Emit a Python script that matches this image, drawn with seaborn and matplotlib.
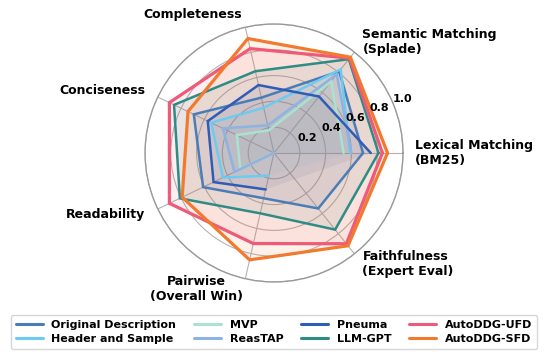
import numpy as np
import matplotlib
matplotlib.use("Agg")
import matplotlib.pyplot as plt
import seaborn as sns

sns.set_style("white")
plt.rcParams['font.family'] = ['DejaVu Sans']
plt.rcParams['text.color'] = 'black'
plt.rcParams['xtick.color'] = 'black'
plt.rcParams['ytick.color'] = 'black'
plt.rcParams['axes.labelcolor'] = 'black'

axis_labels = ["Lexical Matching\n(BM25)", "Semantic Matching\n(Splade)", "Completeness",
               "Conciseness", "Readability", "Pairwise\n(Overall Win)",
               "Faithfulness\n(Expert Eval)"]

methods = ["Original Description", "Header and Sample", "MVP", "ReasTAP",
           "Pneuma", "LLM-GPT", "AutoDDG-UFD", "AutoDDG-SFD"]

nan = np.nan
original_description = [0.69, 0.81, 0.44, 0.69, 0.61, 0.36, 0.55]
header_and_sample = [0.59, 0.83, 0.36, 0.54, 0.44, 0.18, nan]
mvp = [0.54, 0.71, 0.18, 0.32, 0.29, 0.0, nan]
reastap = [0.60, 0.78, 0.22, 0.44, 0.34, 0.0, nan]
pneuma = [0.75, 0.56, 0.54, 0.57, 0.52, 0.29, nan]
llm_gpt = [0.81, 0.93, 0.65, 0.86, 0.81, 0.48, 0.76]
autoddg_ufd = [0.84, 0.94, 0.83, 0.90, 0.90, 0.72, 0.90]
autoddg_sfd = [0.88, 0.95, 0.91, 0.74, 0.79, 0.85, 0.92]

series = [original_description, header_and_sample, mvp, reastap, pneuma,
          llm_gpt, autoddg_ufd, autoddg_sfd]

radial_ticks = [0.2, 0.4, 0.6, 0.8, 1.0]
radial_tick_labels = ["0.2", "0.4", "0.6", "0.8", "1.0"]

colors = ["#4a7db8", "#6ccbf0", "#a9e2cf", "#8db3e2", "#2f5db5",
          "#2e8c85", "#ee5a78", "#f27a2e"]
widths = [1.8, 1.8, 1.8, 1.8, 1.8, 1.8, 2.3, 2.3]

n = len(axis_labels)
angles = np.linspace(0, 2 * np.pi, n, endpoint=False)

fig = plt.figure(figsize=(5.48, 3.6), dpi=100)
ax = fig.add_axes([0.2646, 0.2167, 0.4708, 0.7167], projection='polar')

handles = []
for name, vals, c, lw in zip(methods, series, colors, widths):
    v = np.array(vals, dtype=float)
    a_closed = np.concatenate([angles, angles[:1]])
    v_closed = np.concatenate([v, v[:1]])
    line, = ax.plot(a_closed, v_closed, color=c, lw=lw, label=name,
                    solid_joinstyle='miter')
    mask = ~np.isnan(v)
    ax.fill(angles[mask], v[mask], color=c, alpha=0.1, lw=0)
    handles.append(line)

ax.set_ylim(0, 1.0)
ax.set_yticks(radial_ticks)
ax.set_yticklabels([])
ax.set_xticks(angles)
ax.set_xticklabels([])
ax.grid(True, color='#b3b3b3', lw=0.8)
ax.spines['polar'].set_color('#999999')
ax.spines['polar'].set_linewidth(1.0)

rlabel_angle = np.radians(22.5)
for r, lab in zip(radial_ticks, radial_tick_labels):
    ax.text(rlabel_angle, r, lab, ha='left', va='bottom', fontsize=8,
            fontweight='bold', color='black', zorder=10, clip_on=False)

label_r = [1.09, 1.10, 1.105, 1.11, 1.105, 1.08, 1.10]
for ang, lab, r in zip(angles, axis_labels, label_r):
    deg = np.degrees(ang)
    ha = 'right' if 90 < deg < 270 else 'left'
    ma = 'center' if lab.startswith("Pairwise") else ha
    ax.text(ang, r, lab, ha=ha, va='center', multialignment=ma,
            fontsize=9, fontweight='bold', color='black', clip_on=False)

leg = fig.legend(handles, methods, loc='lower center', bbox_to_anchor=(0.5, 0.015),
                 ncol=4, prop={'weight': 'bold', 'size': 8}, frameon=True,
                 edgecolor='#cccccc', handlelength=2.4, columnspacing=1.6,
                 borderpad=0.45, labelspacing=0.35)
for h in leg.get_lines():
    h.set_linewidth(2.2)

fig.savefig('out.png', dpi=100)
